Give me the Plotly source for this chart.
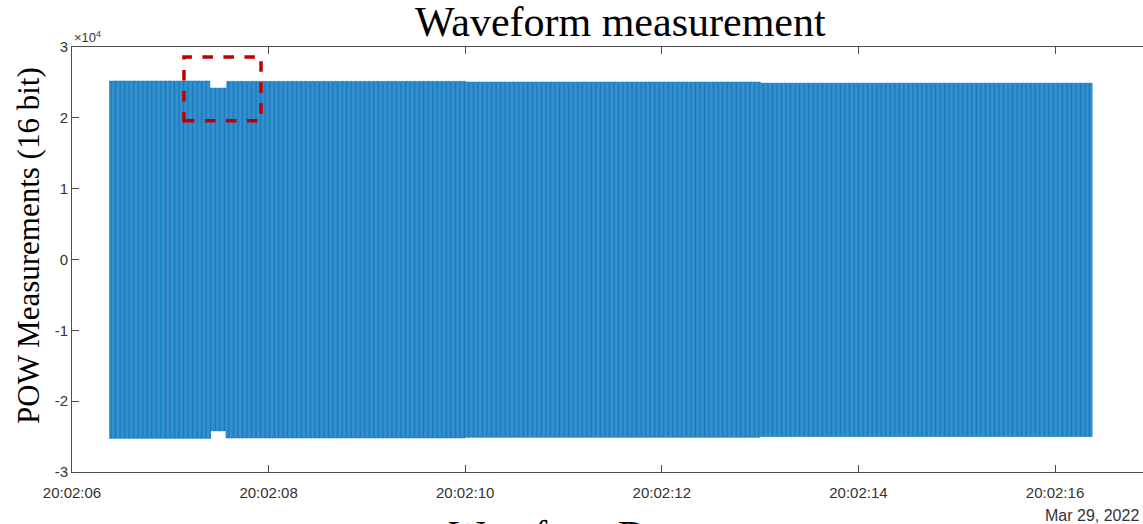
import numpy as np
import pandas as pd
import plotly.graph_objects as go

# ---------------- data ----------------
BASE_MINUTE = "2022-03-29 20:02:00"
LINE_FREQ_HZ = 60                      # mains frequency of the recorded waveform
# envelope segments (seconds after 20:02:00) and their positive / negative peak values
seg_start_s = [6.376, 7.404, 7.567, 10.0, 13.0]
seg_end_s = [7.404, 7.567, 10.0, 13.0, 16.376]
seg_pos_peak = [25200, 24200, 25150, 25050, 24900]
seg_neg_peak = [-25250, -24200, -25200, -25100, -25000]

# x-axis ticks (seconds after 20:02:00) and view window
tick_s = [6, 8, 10, 12, 14, 16]
x_view_s = [6.0, 16.895]
y_ticks = [-30000, -20000, -10000, 0, 10000, 20000, 30000]
y_tick_text = ["-3", "-2", "-1", "0", "1", "2", "3"]

# highlighted region (dashed red box) around the amplitude dip
box_x_s = [7.139, 7.923]
box_y = [19580, 28590]

# ---------------- build waveform (alternating half-cycle peaks) ----------------
base = pd.Timestamp(BASE_MINUTE)
n_half = int(round((seg_end_s[-1] - seg_start_s[0]) * 2 * LINE_FREQ_HZ)) + 1
t_all = seg_start_s[0] + np.arange(n_half) / (2 * LINE_FREQ_HZ)
seg_idx = np.clip(np.searchsorted(seg_start_s, t_all, side="right") - 1, 0, len(seg_start_s) - 1)
hi = np.array(seg_pos_peak)[seg_idx]
lo = np.array(seg_neg_peak)[seg_idx]
v_all = np.where(np.arange(n_half) % 2 == 0, hi, lo)
x_dt = base + pd.to_timedelta(t_all, unit="s")

def ts(sec):
    return base + pd.to_timedelta(sec, unit="s")

fig = go.Figure()
fig.add_trace(go.Scatter(
    x=x_dt, y=v_all, mode="lines",
    line=dict(color="#0072BD", width=0.9, shape="hv"),
    hoverinfo="skip", showlegend=False,
))

fig.add_shape(
    type="rect", xref="x", yref="y",
    x0=ts(box_x_s[0]), x1=ts(box_x_s[1]), y0=box_y[0], y1=box_y[1],
    line=dict(color="#C00000", width=3.5, dash="dash"),
)

axis_col = "#4d4d4d"
tick_font = dict(family="Liberation Sans, Arial, sans-serif", size=15, color="#333333")

fig.update_layout(
    width=1143, height=524,
    margin=dict(l=72, r=0, t=47, b=52),
    paper_bgcolor="white", plot_bgcolor="white",
    showlegend=False,
    xaxis=dict(
        type="date",
        range=[ts(x_view_s[0]), ts(x_view_s[1])],
        tickvals=[ts(s) for s in tick_s],
        tickformat="%H:%M:%S",
        ticks="inside", ticklen=7, tickcolor=axis_col, tickwidth=1,
        showline=True, linecolor=axis_col, linewidth=1, mirror="ticks",
        showgrid=False, zeroline=False,
        tickfont=tick_font, ticklabelstandoff=7,
    ),
    yaxis=dict(
        range=[-30000, 30000],
        tickvals=y_ticks, ticktext=y_tick_text,
        ticks="inside", ticklen=7, tickcolor=axis_col, tickwidth=1,
        showline=True, linecolor=axis_col, linewidth=1,
        showgrid=False, zeroline=False,
        tickfont=tick_font,
    ),
)

serif = "Liberation Serif, Times New Roman, serif"
pw = 1071.0
ph = 425.0

def px_x(p):
    return (p - 72) / pw

def px_y(p):
    return (472 - p) / ph

anns = [
    dict(text="Waveform measurement", x=px_x(620), y=px_y(22), xanchor="center", yanchor="middle",
         font=dict(family=serif, size=42, color="black")),
    dict(text="POW Measurements (16 bit)", x=px_x(28), y=px_y(246), xanchor="center", yanchor="middle",
         textangle=-90, font=dict(family=serif, size=31, color="black")),
    dict(text="×10<sup>4</sup>", x=px_x(72), y=px_y(37), xanchor="left", yanchor="middle",
         font=dict(family="Liberation Sans, Arial, sans-serif", size=13, color="#333333")),
    dict(text="Mar 29, 2022", x=px_x(1141), y=px_y(515), xanchor="right", yanchor="middle",
         font=dict(family="Liberation Sans, Arial, sans-serif", size=16, color="#333333")),
    dict(text="Waveform Dataset", x=px_x(447), y=px_y(534), xanchor="left", yanchor="middle",
         font=dict(family=serif, size=38, color="black")),
]
for a in anns:
    fig.add_annotation(xref="paper", yref="paper", showarrow=False, **a)

fig.write_html("out.html")
